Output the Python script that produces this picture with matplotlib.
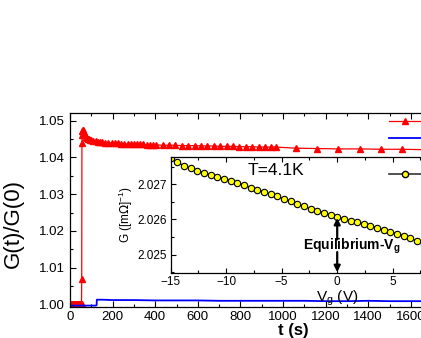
import matplotlib
matplotlib.use("Agg")
import matplotlib.pyplot as plt
from matplotlib.lines import Line2D
from matplotlib.ticker import MultipleLocator

plt.rcParams['font.family'] = ['Liberation Sans', 'DejaVu Sans']

# ---- main panel data: relaxation G(t)/G(0) ----
red_t = [0, 3, 6, 9, 12, 15, 18, 21, 24, 27, 30, 33, 36, 39, 42, 45, 48, 51, 54,
         55, 56, 57, 58, 59, 60, 62, 64, 66, 68, 70, 75, 80, 85, 90, 95, 100,
         110, 120, 130, 140, 150, 165, 180, 195, 210, 225, 240, 255, 270, 285,
         300, 315, 330, 345, 360, 375, 390, 405, 435, 465, 495, 525, 555, 585,
         615, 645, 675, 705, 735, 765, 795, 825, 855, 885, 915, 945, 965,
         1060, 1160, 1260, 1360, 1460, 1560, 1660, 1760]
red_g = [1.0002, 1.0001, 1.0002, 1.0001, 1.0002, 1.0001, 1.0002, 1.0001, 1.0002,
         1.0001, 1.0002, 1.0001, 1.0002, 1.0001, 1.0002, 1.0001, 1.0002, 1.0001, 1.0002,
         1.0068, 1.0439, 1.0462, 1.0471, 1.0475, 1.0474, 1.0471, 1.0468, 1.0465,
         1.0462, 1.0460, 1.0456, 1.0453, 1.0451, 1.0449, 1.0448, 1.0447,
         1.0445, 1.0444, 1.0443, 1.0442, 1.0441, 1.0440, 1.0440, 1.0439, 1.0438,
         1.0438, 1.0437, 1.0437, 1.0436, 1.0436, 1.0436, 1.0435, 1.0435, 1.0435,
         1.0434, 1.0434, 1.0434, 1.0434, 1.0433, 1.0433, 1.0433, 1.0432, 1.0432,
         1.0432, 1.0431, 1.0431, 1.0431, 1.0430, 1.0430, 1.0430, 1.0429, 1.0429,
         1.0429, 1.0428, 1.0428, 1.0428, 1.0428,
         1.0425, 1.0424, 1.0423, 1.0423, 1.0422, 1.0422, 1.0421, 1.0420]

blue_t = [0, 40, 80, 120, 125, 126, 150, 200, 300, 400, 500, 600, 700, 800, 900,
          1000, 1100, 1200, 1300, 1400, 1500, 1600, 1700, 1800]
blue_g = [0.9997, 0.9997, 0.9997, 0.9997, 0.9998, 1.0013, 1.0013, 1.0012, 1.0012,
          1.0011, 1.0011, 1.0011, 1.0010, 1.0010, 1.0010, 1.0010, 1.0010, 1.0009,
          1.0009, 1.0010, 1.0009, 1.0009, 1.0009, 1.0009]

# ---- inset data: G vs Vg at T=4.1K ----
vg = [-15.0, -14.4, -13.8, -13.2, -12.6, -12.0, -11.4, -10.8, -10.2, -9.6, -9.0,
      -8.4, -7.8, -7.2, -6.6, -6.0, -5.4, -4.8, -4.2, -3.6, -3.0, -2.4, -1.8,
      -1.2, -0.6, 0.0, 0.6, 1.2, 1.8, 2.4, 3.0, 3.6, 4.2, 4.8, 5.4, 6.0, 6.6,
      7.2, 7.8, 8.4, 9.0, 9.6]
g_vg = [2.02775, 2.02762, 2.02752, 2.02746, 2.02738, 2.02732, 2.02726, 2.02721,
        2.02715, 2.02710, 2.02704, 2.02698, 2.02690, 2.02684, 2.02678, 2.02671,
        2.02665, 2.02658, 2.02651, 2.02644, 2.02637, 2.02630, 2.02624, 2.02618,
        2.02612, 2.02606, 2.02601, 2.02596, 2.02592, 2.02587, 2.02582, 2.02576,
        2.02570, 2.02564, 2.02559, 2.02554, 2.02546, 2.02538, 2.02530, 2.02522,
        2.02514, 2.02506]

main_xticks = [0, 200, 400, 600, 800, 1000, 1200, 1400, 1600]
main_yticks = [1.00, 1.01, 1.02, 1.03, 1.04, 1.05]
inset_xticks = [-15, -10, -5, 0, 5]
inset_yticks = [2.025, 2.026, 2.027]

W, H = 421, 338
fig = plt.figure(figsize=(W / 100, H / 100), dpi=100)

def fr(x0, y0, x1, y1):
    return [x0 / W, 1 - y1 / H, (x1 - x0) / W, (y1 - y0) / H]

ax_w = 10.5 * 42.6
ax = fig.add_axes(fr(70, 112.5, 70 + ax_w, 306.5))
ax.plot(red_t, red_g, color='#ff0000', lw=0.9, marker='^', ms=4.2,
        mec='#ff0000', mfc='#ff0000')
ax.plot(blue_t, blue_g, color='#0000ff', lw=1.3)
ax.set_xlim(0, 2100)
ax.set_ylim(0.99945, 1.0522)
ax.set_xticks(main_xticks)
ax.set_yticks(main_yticks)
ax.set_yticklabels([f"{v:.2f}" for v in main_yticks])
ax.xaxis.set_minor_locator(MultipleLocator(100))
ax.yaxis.set_minor_locator(MultipleLocator(0.005))
ax.tick_params(which='both', direction='in', top=True, right=True, labelsize=9.5,
               width=0.8)
ax.tick_params(which='major', length=4)
ax.tick_params(which='minor', length=2)
ax.set_xlabel('t (s)', fontsize=12, fontweight='bold', labelpad=0)
ax.set_ylabel('G(t)/G(0)', fontsize=16)
ax.yaxis.set_label_coords(-46 / ax_w, (306.5 - 223) / 194)
for s in ax.spines.values():
    s.set_linewidth(0.9)

# legend handles (labels lie beyond the cropped right edge)
h1 = Line2D([], [], color='#ff0000', lw=0.9, marker='^', ms=4.2)
h2 = Line2D([], [], color='#0000ff', lw=1.3)
h3 = Line2D([], [], color='#333333', lw=1.2, marker='o', ms=4.5, mfc='#ffff00', mec='black')
fig.legend([h1, h2], ['4.1K', 'reference'], loc='upper left',
           bbox_to_anchor=(389 / W, 1 - 116 / H), frameon=False, fontsize=9,
           handlelength=2.6, handletextpad=2.0, labelspacing=0.45,
           borderaxespad=0, borderpad=0)
fig.legend([h3], ['G(Vg)'], loc='upper left',
           bbox_to_anchor=(389 / W, 1 - 169 / H), frameon=False, fontsize=9,
           handlelength=2.6, handletextpad=2.0, borderaxespad=0, borderpad=0)

# inset
ai = fig.add_axes(fr(170.7, 156.7, 170.7 + 6 * 55.5, 272.5))
ai.plot(vg, g_vg, color='black', lw=1.0, marker='o', ms=4.6, mfc='#ffff00',
        mec='black', mew=0.8)
ai.set_xlim(-15, 15)
ai.set_ylim(2.02449, 2.02778)
ai.set_xticks(inset_xticks)
ai.set_yticks(inset_yticks)
ai.set_yticklabels([f"{v:.3f}" for v in inset_yticks])
ai.xaxis.set_minor_locator(MultipleLocator(2.5))
ai.yaxis.set_minor_locator(MultipleLocator(0.0005))
ai.tick_params(which='both', direction='in', top=True, right=True, labelsize=8.5,
               width=0.8, pad=2.5)
ai.tick_params(which='major', length=3.5)
ai.tick_params(which='minor', length=2)
ai.set_xlabel('V$_\\mathregular{g}$ (V)', fontsize=11, labelpad=0)
ai.set_ylabel('G ([m$\\Omega$]$^\\mathregular{-1}$)', fontsize=8.5, labelpad=2)
ai.text(-5.56, 2.02740, 'T=4.1K', fontsize=12.5, ha='center', va='center')
ai.text(1.3, 2.02524, 'Equilibrium-V$_\\mathregular{g}$', fontsize=10,
        fontweight='bold', ha='center', va='center')
ai.annotate('', xy=(0, 2.02604), xytext=(0, 2.02543),
            arrowprops=dict(arrowstyle='-|>', color='black', lw=1.6,
                            mutation_scale=9, shrinkA=0, shrinkB=0))
ai.annotate('', xy=(0, 2.0245), xytext=(0, 2.02507),
            arrowprops=dict(arrowstyle='-|>', color='black', lw=1.6,
                            mutation_scale=9, shrinkA=0, shrinkB=0))
for s in ai.spines.values():
    s.set_linewidth(0.9)

fig.savefig('out.png', dpi=100)
